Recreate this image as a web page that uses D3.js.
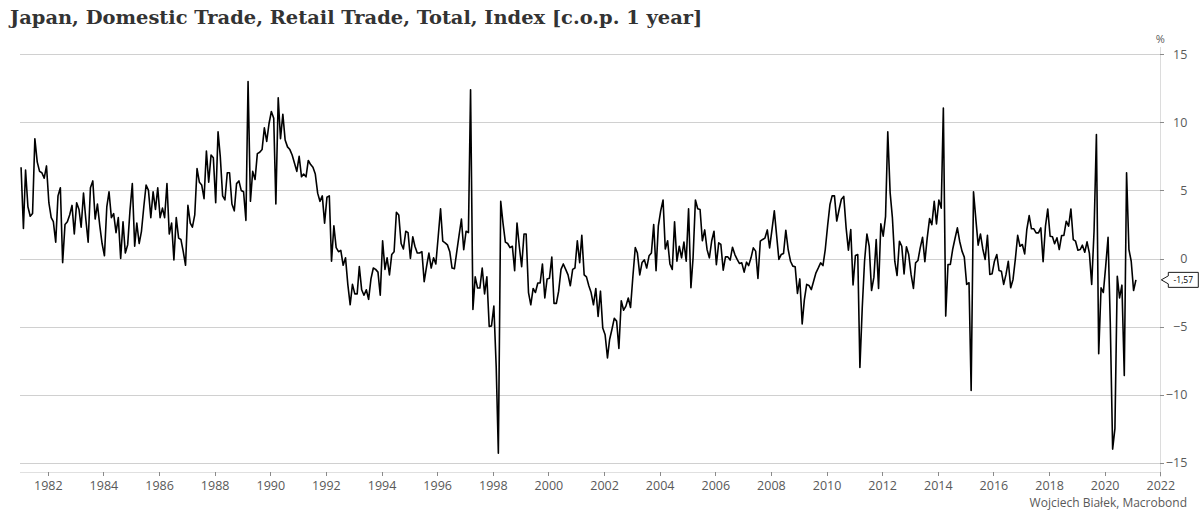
<!DOCTYPE html>
<html>
<head>
<meta charset="utf-8">
<script src="https://cdn.jsdelivr.net/npm/d3@7"></script>
<style>
  html, body { margin: 0; padding: 0; background: #ffffff; }
  svg { display: block; }
</style>
</head>
<body>
<svg id="chart" width="1203" height="514"></svg>
<script>
// ---------------- data ----------------
const titleText = "Japan, Domestic Trade, Retail Trade, Total, Index [c.o.p. 1 year]";
const sourceText = "Wojciech Białek, Macrobond";
const unitLabel = "%";
const startYear = 1981;           // first observation: January 1981 (monthly)
const lastValueLabel = "-1,57";

// monthly year-over-year % change, Jan 1981 .. Feb 2021
const values1981_1990 = [
  6.7, 2.2, 6.5, 3.8, 3.1, 3.3, 8.8, 7.1, 6.4, 6.3, 5.9, 6.8,
  4.1, 3.0, 2.7, 1.2, 4.6, 5.2, -0.3, 2.5, 2.7, 3.2, 3.9, 1.8,
  4.1, 3.6, 2.3, 4.8, 2.9, 1.2, 5.2, 5.7, 2.9, 4.0, 2.4, 1.1,
  0.2, 3.8, 4.9, 3.0, 3.3, 1.9, 3.0, 0.0, 2.7, 0.4, 1.0, 3.5,
  5.5, 0.9, 2.6, 1.1, 2.0, 3.8, 5.4, 5.0, 3.0, 4.9, 3.6, 5.2,
  3.0, 3.7, 3.0, 5.5, 1.8, 2.6, -0.1, 3.0, 1.5, 1.4, 0.5, -0.5,
  3.9, 2.6, 2.3, 3.2, 6.6, 5.6, 5.4, 4.4, 7.9, 5.6, 7.6, 7.4,
  4.1, 9.3, 7.5, 4.6, 4.3, 6.3, 6.3, 4.0, 3.5, 5.5, 5.7, 5.0,
  4.9, 2.8, 13.0, 4.2, 6.4, 5.8, 7.7, 7.8, 8.0, 9.6, 8.6, 9.9,
  10.8, 10.3, 4.0, 11.8, 8.8, 10.6, 8.7, 8.2, 8.0, 7.6, 7.0, 6.4
];
const values1991_2000 = [
  7.5, 6.0, 6.2, 6.0, 7.2, 6.9, 6.7, 6.2, 4.8, 4.2, 4.6, 2.6,
  4.5, 4.6, -0.2, 2.4, 0.8, 0.5, 0.6, -0.5, 0.05, -1.9, -3.4, -1.9,
  -2.6, -2.6, -0.6, -2.3, -2.7, -2.3, -3.0, -1.5, -0.7, -0.8, -1.0, -2.7,
  1.3, -0.8, 0.05, -1.2, 0.3, 0.5, 3.4, 3.2, 1.1, 0.7, 2.0, 1.9,
  0.0, 1.6, 0.9, 0.4, 0.4, 0.5, -1.7, -0.6, 0.4, -0.7, 0.05, -0.4,
  1.6, 3.65, 1.27, 1.15, 1.0, 0.5, -0.7, -0.75, 0.5, 1.7, 2.9, 0.65,
  2.0, 1.9, 12.4, -3.75, -1.35, -2.17, -2.17, -0.7, -2.6, -1.35, -5.0, -4.95,
  -3.5, -8.0, -14.3, 4.2, 2.6, 1.2, 1.1, 0.8, 0.9, -0.9, 2.6, 0.9,
  -0.6, 1.8, 1.8, -2.5, -3.4, -2.2, -2.5, -1.8, -1.8, -0.4, -2.9, -1.5,
  -1.45, 0.1, -3.3, -3.3, -2.4, -0.8, -0.4, -0.8, -1.2, -2.0, -0.8, -0.7
];
const values2001_2010 = [
  1.3, -0.3, 1.7, -1.2, -1.35, -2.0, -2.5, -3.4, -2.2, -4.25, -2.4, -5.1,
  -5.6, -7.3, -5.95, -5.2, -4.4, -4.6, -6.6, -3.1, -3.8, -3.5, -2.9, -3.6,
  -1.3, 0.8, 0.4, -1.2, -0.3, -0.1, -0.7, 0.2, 0.4, 2.5, -0.9, 2.4,
  3.5, 4.3, 0.7, 1.3, -0.4, -0.8, 2.7, -0.2, 0.9, 0.05, 1.2, -0.2,
  3.65, -2.15, 0.05, 4.3, 3.65, 3.6, 1.3, 2.1, 0.65, 0.05, 1.3, 2.0,
  -0.45, 1.15, 1.03, -0.86, 0.12, 0.12, -0.12, 0.83, 0.29, -0.07, -0.37, -0.32,
  -1.0, -0.27, -0.52, 0.05, 0.78, 0.54, -1.47, 1.27, 1.4, 1.5, 2.1, 0.78,
  2.1, 3.5, 1.77, -0.07, 0.29, 0.37, 2.08, 0.66, -0.2, -0.56, -0.61, -2.57,
  -1.5, -4.8, -3.06, -1.9, -1.98, -2.28, -1.67, -1.05, -0.69, -0.32, -0.52, 0.66,
  2.4, 3.97, 4.6, 4.6, 2.75, 3.6, 4.35, 4.56, 2.25, 0.61, 2.13, -1.94
];
const values2011_2021 = [
  0.22, 0.29, -8.0, -3.6, -0.2, 1.8, 0.9, -2.35, -1.37, 1.39, -2.2, 2.55,
  1.64, 3.1, 9.3, 4.84, 2.98, -0.2, -1.25, 1.27, 0.9, -1.13, 0.86, 0.29,
  -1.17, -2.2, -0.32, -0.15, 0.78, 1.56, -0.24, 1.52, 2.93, 2.49, 4.2, 2.54,
  4.3, 3.7, 11.05, -4.23, -0.44, -0.44, 0.66, 1.47, 2.25, 1.27, 0.54, 0.1,
  -1.9, -1.78, -9.7, 4.9, 2.93, 0.98, 1.8, 0.7, -0.07, 1.7, -1.17, -1.12,
  -0.2, 0.29, -0.88, -0.93, -1.9, -1.17, -0.2, -2.15, -1.54, -0.07, 1.7, 0.9,
  1.03, 0.34, 2.13, 3.15, 2.18, 2.18, 1.88, 1.88, 2.25, -0.24, 2.37, 3.64,
  1.64, 1.59, 1.08, 1.52, 0.66, 1.69, 1.69, 2.74, 2.37, 3.64, 1.39, 1.27,
  0.61, 0.66, 0.98, 0.46, 1.22, 0.37, -1.9, 2.0, 9.1, -7.0, -2.15, -2.5,
  -0.56, 1.56, -4.7, -14.0, -12.5, -1.3, -2.9, -1.96, -8.6, 6.3, 0.66, -0.2,
  -2.35, -1.57
];

const xTickYears = [1982, 1984, 1986, 1988, 1990, 1992, 1994, 1996, 1998, 2000,
                    2002, 2004, 2006, 2008, 2010, 2012, 2014, 2016, 2018, 2020, 2022];
const yTickValues = [-15, -10, -5, 0, 5, 10, 15];
const xDomainYears = [1981, 2022];
const yDomain = [-15, 15];

// ---------------- drawing ----------------
const values = [].concat(values1981_1990, values1991_2000, values2001_2010, values2011_2021);
const series = values.map((v, i) => ({ date: new Date(startYear, i, 15), value: v }));

const svg = d3.select("#chart");
const W = 1203, H = 514;
const plotLeft = 20, plotRight = 1160.3, plotTop = 54.3, plotBottom = 462.7;
const axisY = 472;

const x = d3.scaleTime()
  .domain([new Date(xDomainYears[0], 0, 1), new Date(xDomainYears[1], 0, 1)])
  .range([plotLeft, plotRight]);
const y = d3.scaleLinear().domain(yDomain).range([plotBottom, plotTop]);

const labelFont = "'Open Sans', 'Noto Sans', sans-serif";
const labelColor = "#595959";

// gridlines
const grid = svg.append("g")
  .attr("transform", `translate(${plotLeft},0)`)
  .call(d3.axisLeft(y).tickValues(yTickValues).tickSize(-(plotRight - plotLeft)).tickFormat(""));
grid.select(".domain").remove();
grid.selectAll(".tick line").attr("stroke", "#d0d0d0").attr("stroke-width", 1)
  .attr("shape-rendering", "crispEdges");

// right axis
const yAxis = svg.append("g")
  .attr("transform", `translate(${plotRight},0)`)
  .call(d3.axisRight(y).tickValues(yTickValues).tickSize(4).tickFormat(d3.format("d")));
yAxis.select(".domain")
  .attr("d", `M0,${47}V${axisY + 5}`)
  .attr("stroke", "#dcdcdc").attr("shape-rendering", "crispEdges");
yAxis.selectAll(".tick line").attr("stroke", "#8a8a8a").attr("shape-rendering", "crispEdges");
yAxis.selectAll(".tick text")
  .attr("x", 27).attr("text-anchor", "end")
  .attr("fill", labelColor).style("font-family", labelFont).style("font-size", "12.5px");

// bottom axis
const xAxis = svg.append("g")
  .attr("transform", `translate(0,${axisY})`)
  .call(d3.axisBottom(x)
    .tickValues(xTickYears.map(yy => new Date(yy, 0, 1)))
    .tickFormat(d3.timeFormat("%Y"))
    .tickSize(4).tickPadding(5));
xAxis.select(".domain")
  .attr("d", `M${plotLeft},0H${plotRight}`)
  .attr("stroke", "#e0e0e0").attr("shape-rendering", "crispEdges");
xAxis.selectAll(".tick line").attr("stroke", "#8a8a8a").attr("shape-rendering", "crispEdges");
xAxis.selectAll(".tick text")
  .attr("fill", labelColor).style("font-family", labelFont).style("font-size", "12.5px");

// unit label
svg.append("text")
  .attr("x", plotRight).attr("y", 43)
  .attr("text-anchor", "middle")
  .attr("fill", labelColor).style("font-family", labelFont).style("font-size", "11px")
  .text(unitLabel);

// line
const line = d3.line().x(d => x(d.date)).y(d => y(d.value));
svg.append("path")
  .datum(series)
  .attr("fill", "none")
  .attr("stroke", "#000000")
  .attr("stroke-width", 1.6)
  .attr("stroke-linejoin", "round")
  .attr("d", line);

// last value callout
const last = series[series.length - 1];
const ly = y(last.value);
const bx = plotRight + 8, bw = 30, bh = 15;
svg.append("path")
  .attr("d", `M${plotRight + 1},${ly} L${bx},${ly - 4} L${bx},${ly - bh / 2} L${bx + bw},${ly - bh / 2} L${bx + bw},${ly + bh / 2} L${bx},${ly + bh / 2} L${bx},${ly + 4} Z`)
  .attr("fill", "#ffffff").attr("stroke", "#000000").attr("stroke-width", 0.9);
svg.append("text")
  .attr("x", bx + bw / 2).attr("y", ly + 3)
  .attr("text-anchor", "middle")
  .attr("fill", "#000").style("font-family", labelFont).style("font-size", "8.5px")
  .text(lastValueLabel);

// title
const title = svg.append("text")
  .attr("x", 10).attr("y", 24)
  .attr("fill", "#333333")
  .style("font-family", "'DejaVu Serif', 'Liberation Serif', serif")
  .style("font-weight", "bold")
  .style("font-size", "16px")
  .text(titleText);
const tw = title.node().getComputedTextLength();
if (tw > 0) title.style("font-size", (16 * 693 / tw).toFixed(2) + "px");

// source
svg.append("text")
  .attr("x", 1187).attr("y", 507)
  .attr("text-anchor", "end")
  .attr("fill", labelColor).style("font-family", labelFont).style("font-size", "12px")
  .text(sourceText);
</script>
</body>
</html>
